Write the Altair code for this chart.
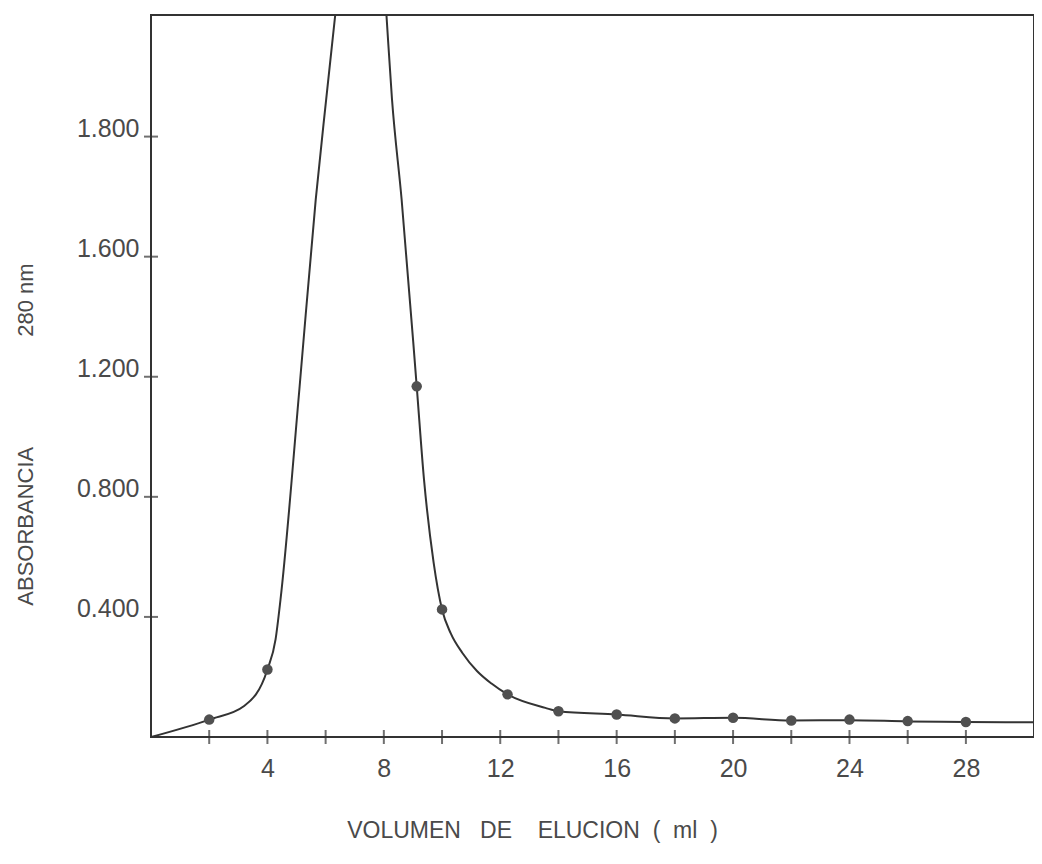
import altair as alt
import pandas as pd

# measured data points (elution volume ml, absorbance 280 nm)
pt_x = [2, 4, 9.13, 10, 12.25, 14, 16, 18, 20, 22, 24, 26, 28]
pt_y = [0.058, 0.225, 1.168, 0.425, 0.142, 0.086, 0.075, 0.062, 0.064, 0.055, 0.058, 0.053, 0.050]

# hand-drawn curve (peak runs off the top of the frame)
curve_x = [0, 2, 3.2, 4, 4.28, 4.45, 5.1, 5.66, 6.02, 6.33, 6.9, 7.4, 7.8, 8.09, 8.28, 8.61,
           9.13, 9.38, 9.71, 10, 10.3, 10.7, 11.2, 11.7, 12.25, 13.55, 14, 16, 18, 20,
           22, 24, 26, 28, 30.34]
curve_y = [0, 0.058, 0.103, 0.225, 0.325, 0.458, 1.16, 1.79, 2.125, 2.405, 2.92, 3.35, 2.83, 2.405,
           2.125, 1.792, 1.168, 0.858, 0.582, 0.425, 0.345, 0.28, 0.22, 0.178, 0.142, 0.097, 0.086,
           0.075, 0.062, 0.064, 0.055, 0.056, 0.052, 0.050, 0.049]

x_tick_marks = [2, 4, 6, 8, 10, 12, 14, 16, 18, 20, 22, 24, 26, 28]
x_tick_labels = [4, 8, 12, 16, 20, 24, 28]
y_tick_values = [0.4, 0.8, 1.2, 1.6, 2.0]
y_tick_labels = ["0.400", "0.800", "1.200", "1.600", "1.800"]

NB = "\u00a0"
x_title = f"VOLUMEN{NB*3}DE{NB*4}ELUCION{NB*2}({NB*2}ml{NB*2})"
y_title = f"ABSORBANCIA{NB*18}280{NB}nm"

expr = "''"
for v, t in reversed(list(zip(y_tick_values, y_tick_labels))):
    expr = f"abs(datum.value - {v}) < 1e-6 ? '{t}' : ({expr})"

pts = pd.DataFrame({"x": pt_x, "y": pt_y})
crv = pd.DataFrame({"x": curve_x, "y": curve_y})
xt = pd.DataFrame({"x": x_tick_marks, "y": [0] * len(x_tick_marks)})
yt = pd.DataFrame({"x": [0] * len(y_tick_values), "y": y_tick_values})

FONT = "Liberation Sans"
INK = "#333333"
TXT = "#4a4a4a"

xs = alt.Scale(domain=[0, 30.34], nice=False, zero=False)
ys = alt.Scale(domain=[0, 2.405], nice=False, zero=False)

xax = alt.Axis(values=x_tick_labels, ticks=False, domain=False, grid=False,
               labelFont=FONT, labelFontSize=25, labelColor=TXT, labelPadding=19,
               title=x_title, titleFont=FONT, titleFontSize=23, titleFontWeight="normal",
               titleColor=TXT, titleX=381, titleY=100, titleBaseline="alphabetic",
               titleAnchor="start", titleAlign="center")
yax = alt.Axis(values=y_tick_values, labelExpr=expr, ticks=False, domain=False, grid=False,
               labelFont=FONT, labelFontSize=25, labelColor=TXT, labelPadding=12,
               labelBaseline="alphabetic",
               title=y_title, titleFont=FONT, titleFontSize=22, titleFontWeight="normal",
               titleColor=TXT, titleX=-119, titleY=419, titleAngle=270,
               titleBaseline="alphabetic", titleAlign="center")

line = alt.Chart(crv).mark_line(color=INK, strokeWidth=2, interpolate="monotone", clip=True).encode(
    x=alt.X("x:Q", scale=xs, axis=xax),
    y=alt.Y("y:Q", scale=ys, axis=yax),
)
dots = alt.Chart(pts).mark_circle(color="#505050", opacity=1, size=110).encode(
    x=alt.X("x:Q", scale=xs),
    y=alt.Y("y:Q", scale=ys),
)
xticks = alt.Chart(xt).mark_tick(orient="vertical", size=14, thickness=2, color=INK).encode(
    x=alt.X("x:Q", scale=xs),
    y=alt.Y("y:Q", scale=ys),
)
yticks = alt.Chart(yt).mark_tick(orient="horizontal", size=14, thickness=2, color=INK).encode(
    x=alt.X("x:Q", scale=xs),
    y=alt.Y("y:Q", scale=ys),
)

chart = alt.layer(line, dots, xticks, yticks).properties(
    width=883, height=722,
    autosize=alt.AutoSizeParams(type="none"),
    padding={"left": 143, "top": 7, "right": 0, "bottom": 118},
    background="white",
).configure_view(stroke=INK, strokeWidth=2)

chart.save("out.html", embed_options={"renderer": "svg", "actions": False})
